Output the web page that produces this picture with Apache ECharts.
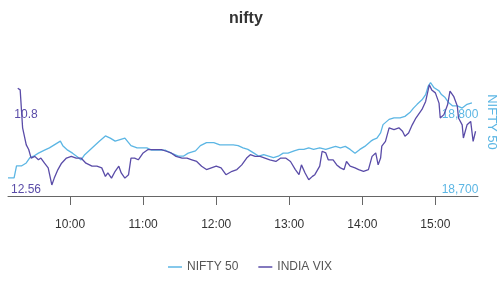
<!DOCTYPE html>
<html>
<head>
<meta charset="utf-8">
<script src="https://cdn.jsdelivr.net/npm/echarts@6/dist/echarts.min.js"></script>
<style>
html,body{margin:0;padding:0;background:#fff;}
#chart{width:500px;height:300px;}
</style>
</head>
<body>
<div id="chart"></div>
<script>
const title = "nifty";
const seriesNames = ["NIFTY 50", "INDIA VIX"];
const xTickLabels = ["10:00", "11:00", "12:00", "13:00", "14:00", "15:00"];
const niftyTickLabels = [18700, 18800];
const vixTickLabels = [12.56, 10.8];

const niftyTimes = ["9:09","9:14","9:16","9:20","9:24","9:27","9:30","9:34","9:39","9:43","9:47","9:52","9:54","9:58",
"10:02","10:07","10:09","10:12","10:16","10:20","10:24","10:29","10:33","10:37","10:41","10:45","10:48","10:50","10:55","10:59",
"11:03","11:07","11:12","11:18","11:23","11:29","11:33","11:37","11:43","11:47","11:52","11:58",
"12:03","12:08","12:14","12:18","12:22","12:26","12:31","12:35","12:39","12:43","12:47","12:51","12:55","12:59",
"13:04","13:08","13:12","13:16","13:20","13:25","13:30","13:34","13:38","13:42","13:46","13:50","13:54","13:58",
"14:02","14:07","14:09","14:12","14:15","14:17","14:22","14:26","14:31","14:35","14:39","14:42","14:45","14:49","14:52","14:54","14:56","14:59",
"15:03","15:05","15:08","15:11","15:14","15:18","15:22","15:26","15:30"];
const niftyValues = [18724,18724,18740,18740,18744,18751,18753,18757,18761,18764,18768,18773,18767,18761,
18757,18751,18748,18755,18761,18767,18773,18780,18777,18773,18775,18777,18771,18767,18764,18764,
18764,18761,18761,18761,18757,18753,18753,18757,18760,18767,18771,18771,
18768,18768,18768,18767,18764,18762,18757,18753,18755,18753,18751,18753,18757,18757,
18760,18762,18762,18764,18762,18764,18762,18764,18766,18764,18766,18762,18757,18762,
18766,18773,18775,18777,18784,18795,18802,18804,18804,18806,18811,18817,18822,18828,18835,18846,18851,18844,
18840,18835,18831,18824,18820,18820,18817,18822,18824];

const vixTimes = ["9:17","9:19","9:21","9:24","9:26","9:28","9:31","9:34","9:36","9:39","9:42","9:45","9:47","9:50","9:53","9:57",
"10:01","10:05","10:09","10:13","10:18","10:22","10:26","10:29","10:31","10:34","10:37","10:40","10:42","10:45","10:48","10:50","10:53","10:56",
"11:00","11:04","11:10","11:15","11:19","11:23","11:27","11:32","11:36","11:40","11:44","11:48","11:52","11:56",
"12:00","12:04","12:08","12:13","12:17","12:21","12:25","12:28","12:32","12:36","12:40","12:44","12:49","12:53","12:57",
"13:01","13:05","13:08","13:10","13:13","13:16","13:19","13:21","13:25","13:27","13:30","13:32","13:36","13:39","13:42","13:45","13:47","13:50","13:54","13:57",
"14:01","14:05","14:08","14:11","14:13","14:15","14:16","14:19","14:22","14:26","14:30","14:33","14:35","14:38","14:41","14:44","14:46","14:49","14:52","14:55","14:57",
"15:00","15:03","15:04","15:07","15:10","15:12","15:15","15:18","15:19","15:22","15:23","15:26","15:29","15:31","15:33"];
const vixValues = [10.03,10.07,10.96,11.36,11.47,11.67,11.63,11.71,11.67,11.79,11.90,12.30,12.14,11.94,11.79,11.67,
11.63,11.67,11.67,11.79,11.86,11.86,11.90,12.10,12.02,12.14,11.98,11.86,12.02,12.14,12.06,11.67,11.67,11.71,
11.55,11.47,11.47,11.47,11.51,11.55,11.63,11.67,11.67,11.71,11.75,11.86,11.94,11.90,
11.86,11.90,12.06,11.98,11.94,11.83,11.67,11.59,11.63,11.63,11.67,11.71,11.75,11.67,11.67,
11.75,11.94,12.06,11.83,12.02,12.18,12.10,12.06,11.86,11.51,11.55,11.71,11.71,11.83,11.90,11.94,11.75,11.86,11.90,11.94,
11.98,11.94,11.63,11.55,11.83,11.67,11.39,11.28,10.96,11.00,10.96,11.04,11.16,11.08,10.89,10.73,10.65,10.53,10.34,9.95,10.07,
10.14,10.38,10.73,10.65,10.42,10.10,10.22,10.45,10.73,10.89,11.20,10.89,10.81,11.28,11.04];

function toMin(s){ const p = s.split(":"); return (+p[0])*60 + (+p[1]); }
function fmtTime(m){ const h = Math.floor(m/60), mm = m%60; return h + ":" + (mm<10?"0":"") + mm; }

const niftyData = niftyTimes.map((t,i)=>[toMin(t), niftyValues[i]]);
const vixData = vixTimes.map((t,i)=>[toMin(t), vixValues[i]]);
const xTicks = xTickLabels.map(toMin);

const NIFTY_COLOR = "#5cb6e4";
const VIX_COLOR = "#5a4ca8";

const chart = echarts.init(document.getElementById("chart"), null, {renderer:"canvas"});
chart.setOption({
  animation: false,
  backgroundColor: "#fff",
  title: {
    text: title, left: 224, top: 6,
    textStyle: {fontSize: 16, fontWeight: "bold", color: "#333", fontFamily: "Liberation Sans"}
  },
  legend: {
    bottom: 22, left: "center",
    icon: "rect", itemWidth: 14, itemHeight: 1.5, itemGap: 20,
    textStyle: {fontSize: 12, color: "#555", fontFamily: "Liberation Sans"},
    data: seriesNames
  },
  grid: {left: 8, right: 22, top: 48, bottom: 104, containLabel: false, outerBoundsMode: "none"},
  xAxis: {
    type: "value", min: toMin("9:09"), max: toMin("15:35"),
    splitLine: {show: false},
    axisLine: {show: true, lineStyle: {color: "#666", width: 1}},
    axisTick: {show: true, length: 9, lineStyle: {color: "#666"}, customValues: xTicks},
    axisLabel: {customValues: xTicks, formatter: v => fmtTime(v), margin: 23,
      color: "#333", fontSize: 12, fontFamily: "Liberation Sans"}
  },
  yAxis: [
    {
      type: "value", position: "left", inverse: true,
      min: 9.087, max: 12.56,
      splitLine: {show: false}, axisLine: {show: false}, axisTick: {show: false},
      axisLabel: {inside: true, customValues: vixTickLabels, margin: 18, align: "center",
        verticalAlign: "bottom", color: VIX_COLOR, fontSize: 12, fontFamily: "Liberation Sans",
        formatter: v => String(v)}
    },
    {
      type: "value", position: "right",
      min: 18700, max: 18897,
      name: seriesNames[0], nameLocation: "middle", nameRotate: -90, nameGap: 7,
      nameMoveOverlap: false,
      nameTextStyle: {color: NIFTY_COLOR, fontSize: 13, fontFamily: "Liberation Sans"},
      splitLine: {show: false}, axisLine: {show: false}, axisTick: {show: false},
      axisLabel: {inside: true, customValues: niftyTickLabels, margin: 18, align: "center",
        verticalAlign: "bottom", color: NIFTY_COLOR, fontSize: 12, fontFamily: "Liberation Sans",
        formatter: v => v.toLocaleString("en-US")}
    }
  ],
  series: [
    {name: seriesNames[0], type: "line", yAxisIndex: 1, data: niftyData, symbol: "none",
      lineStyle: {color: NIFTY_COLOR, width: 1.3}, itemStyle: {color: NIFTY_COLOR}, z: 2},
    {name: seriesNames[1], type: "line", yAxisIndex: 0, data: vixData, symbol: "none",
      lineStyle: {color: VIX_COLOR, width: 1.3}, itemStyle: {color: VIX_COLOR}, z: 3}
  ]
});
</script>
</body>
</html>
